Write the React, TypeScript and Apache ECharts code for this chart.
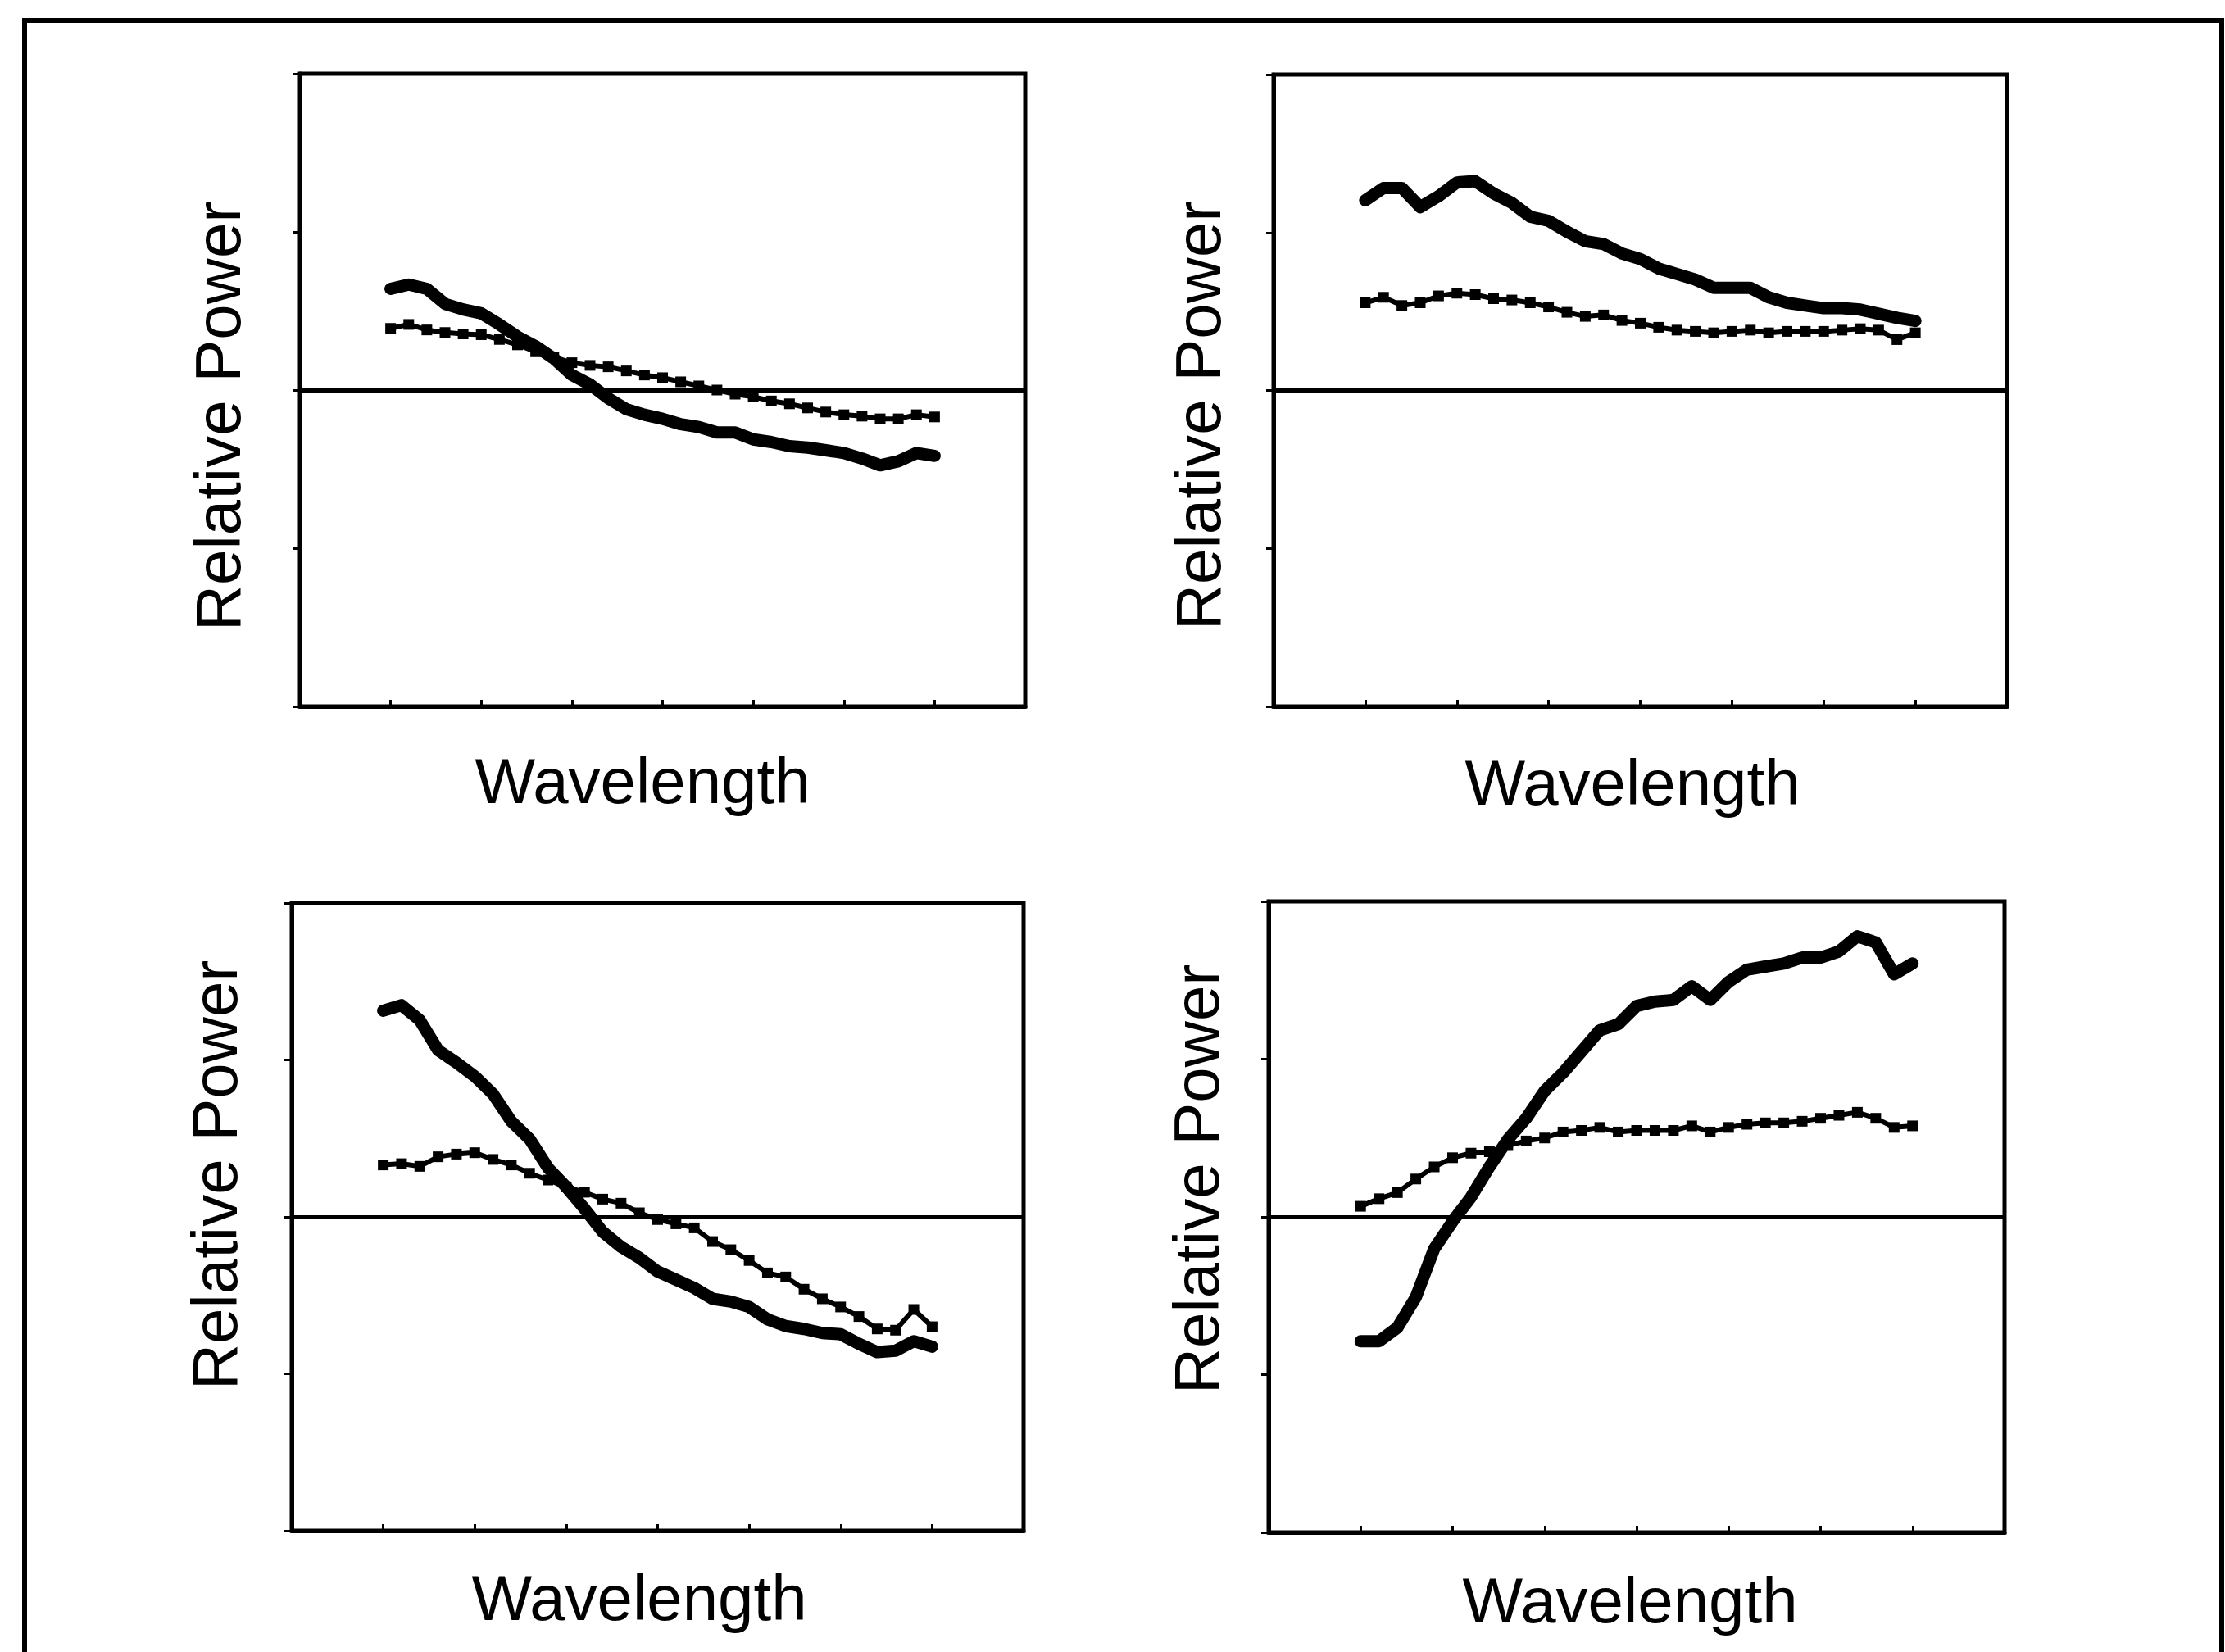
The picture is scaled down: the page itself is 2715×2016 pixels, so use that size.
import React, { useEffect, useRef } from "react";
import * as echarts from "echarts";

// Wavelength sample positions (nm)
const WAVELENGTHS = [400, 410, 420, 430, 440, 450, 460, 470, 480, 490, 500, 510, 520, 530, 540, 550, 560, 570, 580, 590, 600, 610, 620, 630, 640, 650, 660, 670, 680, 690, 700];

// Panel A (top-left)
const A_SOLID = [0.64, 0.667, 0.64, 0.545, 0.51, 0.485, 0.415, 0.338, 0.277, 0.2, 0.095, 0.035, -0.052, -0.121, -0.156, -0.182, -0.216, -0.234, -0.268, -0.268, -0.312, -0.329, -0.355, -0.364, -0.381, -0.398, -0.433, -0.476, -0.45, -0.398, -0.416];
const A_DOTTED = [0.39, 0.415, 0.38, 0.364, 0.355, 0.35, 0.32, 0.286, 0.242, 0.208, 0.173, 0.156, 0.147, 0.121, 0.095, 0.078, 0.052, 0.026, 0.0, -0.026, -0.043, -0.069, -0.087, -0.113, -0.139, -0.156, -0.165, -0.182, -0.182, -0.156, -0.17];

// Panel B (top-right)
const B_SOLID = [1.204, 1.282, 1.282, 1.161, 1.23, 1.317, 1.325, 1.247, 1.187, 1.1, 1.074, 1.005, 0.945, 0.927, 0.867, 0.832, 0.772, 0.737, 0.702, 0.65, 0.65, 0.65, 0.59, 0.555, 0.538, 0.521, 0.521, 0.512, 0.486, 0.46, 0.44];
const B_DOTTED = [0.555, 0.59, 0.538, 0.555, 0.599, 0.616, 0.607, 0.581, 0.573, 0.555, 0.529, 0.495, 0.469, 0.478, 0.443, 0.426, 0.4, 0.382, 0.374, 0.365, 0.374, 0.382, 0.365, 0.374, 0.374, 0.374, 0.382, 0.391, 0.382, 0.322, 0.365];

// Panel C (bottom-left)
const C_SOLID = [1.314, 1.349, 1.253, 1.062, 0.983, 0.896, 0.783, 0.609, 0.496, 0.313, 0.191, 0.052, -0.096, -0.191, -0.261, -0.348, -0.4, -0.453, -0.522, -0.54, -0.574, -0.653, -0.696, -0.714, -0.74, -0.748, -0.809, -0.862, -0.853, -0.792, -0.827];
const C_DOTTED = [0.331, 0.339, 0.322, 0.383, 0.4, 0.409, 0.366, 0.331, 0.278, 0.235, 0.191, 0.157, 0.113, 0.087, 0.026, -0.017, -0.044, -0.07, -0.157, -0.209, -0.278, -0.357, -0.383, -0.461, -0.522, -0.574, -0.635, -0.714, -0.722, -0.59, -0.7];

// Panel D (bottom-right)
const D_SOLID = [-0.788, -0.788, -0.702, -0.51, -0.202, -0.029, 0.125, 0.317, 0.49, 0.625, 0.798, 0.913, 1.048, 1.183, 1.221, 1.337, 1.365, 1.375, 1.462, 1.375, 1.49, 1.567, 1.587, 1.606, 1.644, 1.644, 1.683, 1.779, 1.74, 1.538, 1.606];
const D_DOTTED = [0.067, 0.115, 0.154, 0.24, 0.317, 0.375, 0.404, 0.413, 0.452, 0.481, 0.5, 0.538, 0.548, 0.567, 0.538, 0.548, 0.548, 0.548, 0.577, 0.538, 0.567, 0.587, 0.596, 0.596, 0.606, 0.625, 0.644, 0.663, 0.625, 0.567, 0.577];

const X_TITLE = "Wavelength";
const Y_TITLE = "Relative Power";

const SOLIDS = [A_SOLID, B_SOLID, C_SOLID, D_SOLID];
const DOTTEDS = [A_DOTTED, B_DOTTED, C_DOTTED, D_DOTTED];

// Layout (pixels)
const GRIDS = [
  { left: 366, top: 90, width: 885, height: 772 },
  { left: 1554, top: 91, width: 895, height: 771 },
  { left: 356, top: 1102, width: 893, height: 766 },
  { left: 1548, top: 1100, width: 898, height: 770 },
];
const X_TITLE_POS = [
  { x: 784, y: 953 },
  { x: 1992, y: 955 },
  { x: 780, y: 1950 },
  { x: 1989, y: 1953 },
];
const Y_TITLE_POS = [
  { x: 266, y: 508 },
  { x: 1462, y: 507 },
  { x: 262, y: 1434 },
  { x: 1460, y: 1439 },
];

const FONT = "'Liberation Sans', Arial, Helvetica, sans-serif";

export default function App() {
  const ref = useRef<HTMLDivElement>(null);

  useEffect(() => {
    if (!ref.current) return;
    const chart = echarts.init(ref.current, undefined, { renderer: "svg" });

    const pair = (ys: number[]) => WAVELENGTHS.map((w, i) => [w, ys[i]]);

    const grid = GRIDS.map((g) => ({
      ...g,
      show: true,
      borderColor: "#000",
      borderWidth: 5,
      backgroundColor: "transparent",
      containLabel: false,
    }));

    const xAxis = GRIDS.map((_, i) => ({
      type: "value",
      gridIndex: i,
      min: 350,
      max: 750,
      interval: 50,
      axisLine: { show: true, onZero: false, lineStyle: { color: "#000", width: 5 } },
      axisTick: { show: true, inside: true, length: 8, lineStyle: { color: "#000", width: 3 } },
      axisLabel: { show: false },
      splitLine: { show: false },
    }));

    const yAxis = GRIDS.map((_, i) => ({
      type: "value",
      gridIndex: i,
      min: -2,
      max: 2,
      interval: 1,
      axisLine: { show: true, onZero: false, lineStyle: { color: "#000", width: 5 } },
      axisTick: { show: true, inside: false, length: 9, lineStyle: { color: "#000", width: 3 } },
      axisLabel: { show: false },
      splitLine: { show: false },
    }));

    const series: any[] = [];
    for (let i = 0; i < 4; i++) {
      series.push({
        type: "line",
        xAxisIndex: i,
        yAxisIndex: i,
        data: pair(DOTTEDS[i]),
        showSymbol: true,
        symbol: "rect",
        symbolSize: 13,
        itemStyle: { color: "#000" },
        lineStyle: { color: "#000", width: 6, cap: "round", join: "round" },
        z: 3,
      });
      series.push({
        type: "line",
        xAxisIndex: i,
        yAxisIndex: i,
        data: pair(SOLIDS[i]),
        showSymbol: false,
        symbol: "none",
        lineStyle: { color: "#000", width: 15, cap: "round", join: "round" },
        z: 4,
        markLine: {
          silent: true,
          symbol: ["none", "none"],
          label: { show: false },
          lineStyle: { color: "#000", width: 5, type: "solid" },
          data: [{ yAxis: 0 }],
          animation: false,
        },
      });
    }

    const graphic: any[] = [
      {
        type: "polyline",
        shape: { points: [[30, 2030], [30, 25], [2711, 25], [2711, 2030]] },
        style: { stroke: "#000", lineWidth: 6, fill: "none" },
        silent: true,
      },
    ];
    for (let i = 0; i < 4; i++) {
      graphic.push({
        type: "text",
        x: X_TITLE_POS[i].x,
        y: X_TITLE_POS[i].y,
        style: {
          text: X_TITLE,
          font: `78px ${FONT}`,
          fill: "#000",
          align: "center",
          verticalAlign: "middle",
        },
        silent: true,
      });
      graphic.push({
        type: "text",
        x: Y_TITLE_POS[i].x,
        y: Y_TITLE_POS[i].y,
        rotation: Math.PI / 2,
        style: {
          text: Y_TITLE,
          font: `78px ${FONT}`,
          fill: "#000",
          align: "center",
          verticalAlign: "middle",
        },
        silent: true,
      });
    }

    chart.setOption({
      animation: false,
      backgroundColor: "#fff",
      grid,
      xAxis,
      yAxis,
      series,
      graphic,
    });

    return () => chart.dispose();
  }, []);

  return (
    <div
      ref={ref}
      style={{ position: "absolute", left: 0, top: 0, width: 2715, height: 2016 }}
    />
  );
}
